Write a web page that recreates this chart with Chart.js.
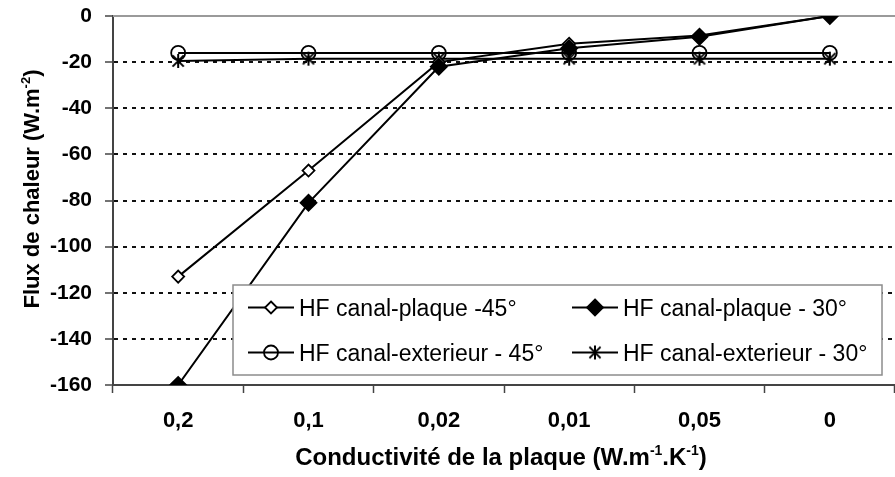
<!DOCTYPE html>
<html lang="fr">
<head>
  <meta charset="UTF-8">
  <title>Flux de chaleur</title>
  <script src="https://cdn.jsdelivr.net/npm/chart.js"></script>
  <style>
    html, body { margin: 0; padding: 0; background: white; overflow: hidden; }
    canvas { display: block; }
  </style>
</head>
<body>
  <canvas id="fluxChart" width="895" height="477"></canvas>

  <script>
    // conductivité de la plaque (W.m-1.K-1)
    const conductivites = ['0,2', '0,1', '0,02', '0,01', '0,05', '0'];
    const yTicks = [0, -20, -40, -60, -80, -100, -120, -140, -160];

    // flux de chaleur (W.m-2)
    const plaque45 = [-113, -67, -20, -12, -8.5, 0];
    const plaque30 = [-160, -81, -22, -14, -9, 0];
    const exterieur45 = [-16, -16, -16, -16, -16, -16];
    const exterieur30 = [-19.5, -18.5, -18.5, -18.5, -18.5, -18.5];

    const FONT = "'Liberation Sans', Arial, sans-serif";

    // asterisk marker: vertical stroke + an X
    function makeStar(size) {
      const c = document.createElement('canvas');
      c.width = size; c.height = size;
      const g = c.getContext('2d');
      const m = size / 2, r = size / 2 - 1;
      g.strokeStyle = '#000';
      g.lineWidth = 2;
      g.beginPath();
      g.moveTo(m, m - r); g.lineTo(m, m + r);
      g.moveTo(m - r * 0.8, m - r * 0.8); g.lineTo(m + r * 0.8, m + r * 0.8);
      g.moveTo(m + r * 0.8, m - r * 0.8); g.lineTo(m - r * 0.8, m + r * 0.8);
      g.stroke();
      return c;
    }
    const starImg = makeStar(16);

    // order: lower value is drawn on top
    const series = [
      { label: 'HF canal-plaque -45°', data: plaque45, pointStyle: 'rectRot', pointRadius: 6, pointBackgroundColor: '#fff', order: 1 },
      { label: 'HF canal-plaque - 30°', data: plaque30, pointStyle: 'rectRot', pointRadius: 8, pointBackgroundColor: '#000', order: 0 },
      { label: 'HF canal-exterieur - 45°', data: exterieur45, pointStyle: 'circle', pointRadius: 7, pointBackgroundColor: 'rgba(0,0,0,0)', order: 2 },
      { label: 'HF canal-exterieur - 30°', data: exterieur30, pointStyle: starImg, pointRadius: 8, pointBackgroundColor: '#000', order: 2 }
    ];

    // text with superscript pieces, e.g. W.m^-2
    function drawRich(ctx, parts, size, x, y) {
      const supSize = Math.round(size * 0.6);
      let w = 0;
      parts.forEach(p => {
        ctx.font = 'bold ' + (p.sup ? supSize : size) + 'px ' + FONT;
        p.w = ctx.measureText(p.t).width;
        w += p.w;
      });
      let cx = x - w / 2;
      ctx.textAlign = 'left';
      ctx.textBaseline = 'alphabetic';
      parts.forEach(p => {
        ctx.font = 'bold ' + (p.sup ? supSize : size) + 'px ' + FONT;
        ctx.fillText(p.t, cx, p.sup ? y - size * 0.42 : y);
        cx += p.w;
      });
    }

    function drawMarker(ctx, style, r, fill, x, y) {
      ctx.save();
      ctx.strokeStyle = '#000';
      ctx.lineWidth = 1.8;
      if (style === 'rectRot') {
        ctx.beginPath();
        ctx.moveTo(x, y - r); ctx.lineTo(x + r, y); ctx.lineTo(x, y + r); ctx.lineTo(x - r, y);
        ctx.closePath();
        ctx.fillStyle = fill; ctx.fill(); ctx.stroke();
      } else if (style === 'circle') {
        ctx.beginPath();
        ctx.arc(x, y, r, 0, Math.PI * 2);
        ctx.stroke();
      } else {
        ctx.drawImage(style, x - style.width / 2, y - style.height / 2);
      }
      ctx.restore();
    }

    const decorations = {
      id: 'decorations',
      beforeDatasetsDraw(chart) {
        // solid grey line at zero
        const { ctx, chartArea, scales: { y } } = chart;
        const py = y.getPixelForValue(0);
        ctx.save();
        ctx.strokeStyle = '#9a9a9a';
        ctx.lineWidth = 2;
        ctx.beginPath();
        ctx.moveTo(chartArea.left, py);
        ctx.lineTo(chartArea.right, py);
        ctx.stroke();
        ctx.restore();
      },
      afterDraw(chart) {
        const ctx = chart.ctx;
        ctx.save();
        ctx.fillStyle = '#000';

        // axis titles
        drawRich(ctx, [{ t: 'Conductivité de la plaque (W.m' }, { t: '-1', sup: true }, { t: '.K' }, { t: '-1', sup: true }, { t: ')' }], 24, 501, 465);
        ctx.save();
        ctx.translate(39, 189);
        ctx.rotate(-Math.PI / 2);
        drawRich(ctx, [{ t: 'Flux de chaleur (W.m' }, { t: '-2', sup: true }, { t: ')' }], 22, 0, 0);
        ctx.restore();

        // legend box
        const box = { left: 233, top: 285, right: 882, bottom: 375 };
        ctx.fillStyle = '#fff';
        ctx.fillRect(box.left, box.top, box.right - box.left, box.bottom - box.top);
        ctx.strokeStyle = '#8c8c8c';
        ctx.lineWidth = 1.5;
        ctx.strokeRect(box.left, box.top, box.right - box.left, box.bottom - box.top);

        const cols = [248, 572];
        const rows = [307.5, 352.5];
        chart.data.datasets.forEach((ds, i) => {
          const lx = cols[i % 2];
          const ly = rows[Math.floor(i / 2)];
          ctx.strokeStyle = '#000';
          ctx.lineWidth = 2;
          ctx.beginPath();
          ctx.moveTo(lx, ly);
          ctx.lineTo(lx + 46, ly);
          ctx.stroke();
          drawMarker(ctx, ds.pointStyle, ds.pointRadius, ds.pointBackgroundColor, lx + 23, ly);
          ctx.fillStyle = '#000';
          ctx.font = '23px ' + FONT;
          ctx.textAlign = 'left';
          ctx.textBaseline = 'alphabetic';
          ctx.fillText(ds.label, lx + 51, ly + 8);
        });
        ctx.restore();
      }
    };

    new Chart(document.getElementById('fluxChart'), {
      type: 'line',
      data: {
        labels: conductivites,
        datasets: series.map(s => ({
          label: s.label,
          data: s.data,
          order: s.order,
          borderColor: '#000',
          borderWidth: 2,
          pointStyle: s.pointStyle,
          pointRadius: s.pointRadius,
          pointBackgroundColor: s.pointBackgroundColor,
          pointBorderColor: '#000',
          pointBorderWidth: 1.8,
          tension: 0
        }))
      },
      options: {
        responsive: false,
        animation: false,
        layout: { autoPadding: false, padding: { top: 16, right: 0, left: 0, bottom: 0 } },
        plugins: {
          legend: { display: false },
          tooltip: { enabled: false }
        },
        scales: {
          x: {
            offset: true,
            grid: {
              offset: true,
              drawOnChartArea: false,
              drawTicks: true,
              tickLength: 8,
              tickColor: '#444',
              tickWidth: 1.5
            },
            border: { color: '#444', width: 2 },
            ticks: {
              color: '#000',
              padding: 15,
              maxRotation: 0,
              font: { family: FONT, size: 22, weight: 'bold' }
            },
            afterFit: s => { s.height = 92; s.paddingLeft = 0; s.paddingRight = 0; }
          },
          y: {
            min: -160,
            max: 0,
            afterBuildTicks: s => { s.ticks = yTicks.map(v => ({ value: v })); },
            grid: {
              color: c => (c.tick && (c.tick.value === 0 || c.tick.value === -160)) ? 'rgba(0,0,0,0)' : '#111',
              lineWidth: 2,
              drawTicks: true,
              tickLength: 8,
              tickColor: '#444',
              tickWidth: 1.5
            },
            border: { color: '#444', width: 2, dash: [4, 5] },
            ticks: {
              color: '#000',
              padding: 13,
              font: { family: FONT, size: 21, weight: 'bold' }
            },
            afterFit: s => { s.width = 113; s.paddingTop = 0; s.paddingBottom = 0; }
          }
        }
      },
      plugins: [decorations]
    });
  </script>
</body>
</html>
